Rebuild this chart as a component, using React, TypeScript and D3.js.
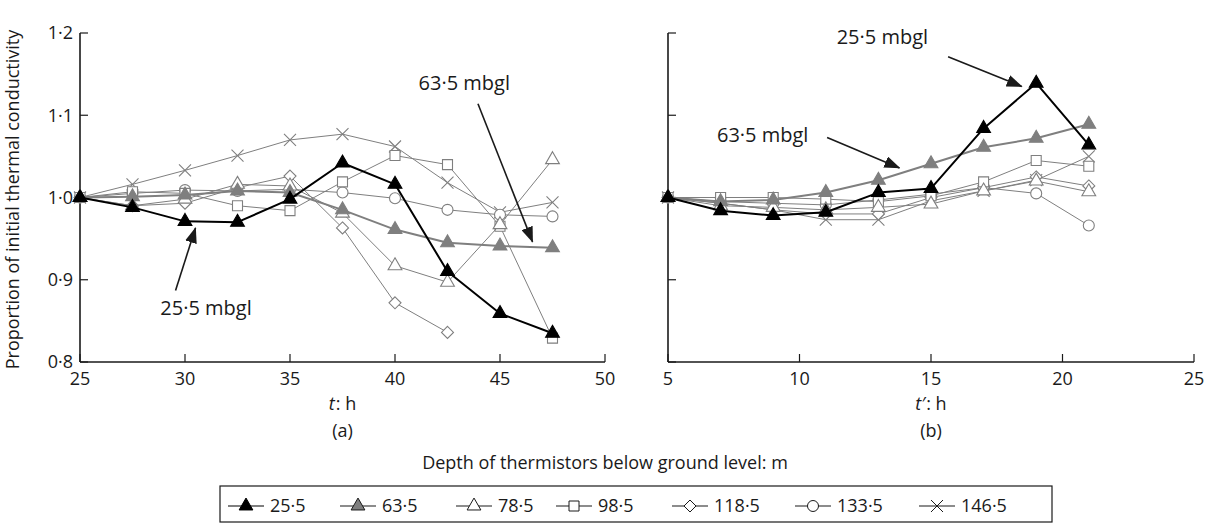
import React from 'react';
import * as d3 from 'd3';

// Sampling times (h) for the heating phase (a) and recovery phase (b)
const tHeating = [25, 27.5, 30, 32.5, 35, 37.5, 40, 42.5, 45, 47.5];
const tRecovery = [5, 7, 9, 11, 13, 15, 17, 19, 21];

// Depth labels of the thermistors (m below ground level)
const depthLabels = ['25·5', '63·5', '78·5', '98·5', '118·5', '133·5', '146·5'];

// Proportion of initial thermal conductivity, heating phase
const heat25_5 = [1.0, 0.988, 0.971, 0.97, 0.998, 1.042, 1.016, 0.91, 0.859, 0.835];
const heat63_5 = [1.0, 1.001, 1.003, 1.008, 1.006, 0.985, 0.961, 0.945, 0.941, 0.939];
const heat78_5 = [1.0, 0.99, 0.998, 1.016, 1.014, 0.981, 0.917, 0.897, 0.967, 1.046];
const heat98_5 = [1.0, 1.007, 1.005, 0.99, 0.984, 1.019, 1.051, 1.04, 0.965, 0.829];
const heat118_5 = [1.0, 0.99, 0.993, 1.012, 1.026, 0.963, 0.872, 0.836];
const heat133_5 = [1.0, 1.005, 1.009, 1.008, 1.01, 1.006, 0.999, 0.985, 0.979, 0.977];
const heat146_5 = [1.0, 1.016, 1.033, 1.051, 1.07, 1.077, 1.062, 1.018, 0.982, 0.994];

// Proportion of initial thermal conductivity, recovery phase
const rec25_5 = [1.0, 0.984, 0.978, 0.982, 1.006, 1.011, 1.084, 1.139, 1.064];
const rec63_5 = [1.0, 0.995, 0.997, 1.006, 1.021, 1.041, 1.061, 1.072, 1.089];
const rec78_5 = [1.0, 0.99, 0.988, 0.985, 0.988, 0.992, 1.008, 1.02, 1.007];
const rec98_5 = [1.0, 1.0, 1.0, 0.998, 0.995, 1.002, 1.019, 1.045, 1.038];
const rec118_5 = [1.0, 0.993, 0.985, 0.98, 0.98, 1.0, 1.012, 1.025, 1.014];
const rec133_5 = [1.0, 0.995, 0.993, 0.991, 0.997, 1.004, 1.012, 1.005, 0.966];
const rec146_5 = [1.0, 0.993, 0.985, 0.973, 0.973, 0.996, 1.008, 1.021, 1.05];

// Axis ticks
const yTicks = [0.8, 0.9, 1.0, 1.1, 1.2];
const xTicksA = [25, 30, 35, 40, 45, 50];
const xTicksB = [5, 10, 15, 20, 25];

const heatingSeries = [heat25_5, heat63_5, heat78_5, heat98_5, heat118_5, heat133_5, heat146_5];
const recoverySeries = [rec25_5, rec63_5, rec78_5, rec98_5, rec118_5, rec133_5, rec146_5];

const GREY = '#7f7f7f';
const INK = '#1a1a1a';
const FONT = '"Open Sans", "Noto Sans", sans-serif';
const FS = 18;

type Shape = 'triangle' | 'square' | 'diamond' | 'circle' | 'cross';
interface SeriesStyle { stroke: string; fill: string; markerStroke: string; shape: Shape; width: number; }

const seriesStyles: SeriesStyle[] = [
  { stroke: '#000', fill: '#000', markerStroke: '#000', shape: 'triangle', width: 2 },
  { stroke: GREY, fill: GREY, markerStroke: GREY, shape: 'triangle', width: 2 },
  { stroke: GREY, fill: '#fff', markerStroke: GREY, shape: 'triangle', width: 1 },
  { stroke: GREY, fill: '#fff', markerStroke: GREY, shape: 'square', width: 1 },
  { stroke: GREY, fill: '#fff', markerStroke: GREY, shape: 'diamond', width: 1 },
  { stroke: GREY, fill: '#fff', markerStroke: GREY, shape: 'circle', width: 1 },
  { stroke: GREY, fill: 'none', markerStroke: GREY, shape: 'cross', width: 1 },
];

const symbolPath = (shape: Shape): string => {
  switch (shape) {
    case 'triangle':
      return d3.symbol().type(d3.symbolTriangle).size(82)() as string;
    case 'square':
      return d3.symbol().type(d3.symbolSquare).size(100)() as string;
    case 'diamond':
      return 'M0,-6L6,0L0,6L-6,0Z';
    case 'circle':
      return d3.symbol().type(d3.symbolCircle).size(95)() as string;
    case 'cross':
      return 'M-6,-6L6,6M-6,6L6,-6';
  }
};

const fmt = (v: number) => d3.format('.1f')(v).replace('.', '·');

const yTop = 33;
const yBottom = 362;
const y = d3.scaleLinear().domain([0.8, 1.2]).range([yBottom, yTop]);
const xA = d3.scaleLinear().domain([25, 50]).range([80, 605]);
const xB = d3.scaleLinear().domain([5, 25]).range([668, 1194]);

interface PanelProps {
  x: d3.ScaleLinear<number, number>;
  times: number[];
  series: number[][];
  xTicks: number[];
  showYLabels: boolean;
  caption: string;
  timeSymbol: string;
}

const Panel: React.FC<PanelProps> = ({ x, times, series, xTicks, showYLabels, caption, timeSymbol }) => {
  const [x0, x1] = x.range();
  const order = [6, 5, 4, 3, 2, 1, 0];
  const xMid = (x0 + x1) / 2;
  return (
    <g>
      {/* axes */}
      <line x1={x0} x2={x0} y1={yTop} y2={yBottom} stroke={INK} strokeWidth={1.6} />
      <line x1={x0} x2={x1} y1={yBottom} y2={yBottom} stroke={INK} strokeWidth={1.6} />
      {yTicks.map((t) => (
        <g key={`y${t}`}>
          <line x1={x0} x2={x0 + 8} y1={y(t)} y2={y(t)} stroke={INK} strokeWidth={1.2} />
          {showYLabels && (
            <text x={x0 - 7} y={y(t)} dy="0.35em" textAnchor="end" fontSize={FS} fill={INK} fontFamily={FONT}>
              {fmt(t)}
            </text>
          )}
        </g>
      ))}
      {xTicks.map((t) => (
        <g key={`x${t}`}>
          <line x1={x(t)} x2={x(t)} y1={yBottom} y2={yBottom - 8} stroke={INK} strokeWidth={1.2} />
          <text x={x(t)} y={yBottom + 17} dy="0.35em" textAnchor="middle" fontSize={FS} fill={INK} fontFamily={FONT}>
            {t}
          </text>
        </g>
      ))}
      <text x={xMid} y={yBottom + 48} textAnchor="middle" fontSize={FS} fill={INK} fontFamily={FONT}>
        <tspan fontStyle="italic">{timeSymbol}</tspan>
        <tspan dx={1}>: h</tspan>
      </text>
      <text x={xMid} y={yBottom + 75} textAnchor="middle" fontSize={FS} fill={INK} fontFamily={FONT}>
        {caption}
      </text>

      {/* series */}
      {order.map((i) => {
        const vals = series[i];
        const st = seriesStyles[i];
        const pts = vals.map((v, j) => [x(times[j]), y(v)] as [number, number]);
        const path = d3.line()(pts) as string;
        return (
          <g key={`s${i}`}>
            <path d={path} fill="none" stroke={st.stroke} strokeWidth={st.width} strokeLinejoin="round" />
            {pts.map(([px, py], j) => (
              <path
                key={j}
                d={symbolPath(st.shape)}
                transform={`translate(${px},${py})`}
                fill={st.fill}
                stroke={st.markerStroke}
                strokeWidth={1.1}
              />
            ))}
          </g>
        );
      })}
    </g>
  );
};

interface Note { label: string; tx: number; ty: number; from: [number, number]; to: [number, number]; }

// Callouts, placed in data units of their own panel
const notesA: Note[] = [
  { label: '25·5 mbgl', tx: 31.0, ty: 0.857, from: [29.55, 0.887], to: [30.5, 0.963] },
  { label: '63·5 mbgl', tx: 43.3, ty: 1.131, from: [43.95, 1.114], to: [46.55, 0.946] },
];
const notesB: Note[] = [
  { label: '25·5 mbgl', tx: 13.15, ty: 1.187, from: [15.65, 1.171], to: [18.45, 1.135] },
  { label: '63·5 mbgl', tx: 8.6, ty: 1.068, from: [11.05, 1.073], to: [13.8, 1.036] },
];

const Callouts: React.FC<{ x: d3.ScaleLinear<number, number>; notes: Note[] }> = ({ x, notes }) => (
  <g>
    {notes.map((n, i) => (
      <g key={i}>
        <text x={x(n.tx)} y={y(n.ty)} textAnchor="middle" fontSize={20} fill={INK} fontFamily={FONT}>
          {n.label}
        </text>
        <line
          x1={x(n.from[0])}
          y1={y(n.from[1])}
          x2={x(n.to[0])}
          y2={y(n.to[1])}
          stroke={INK}
          strokeWidth={1.6}
          markerEnd="url(#arrowhead)"
        />
      </g>
    ))}
  </g>
);

export default function App() {
  const legendLeft = 220;
  const legendRight = 1052;
  const legendY = 506;
  const legendItemX = [228, 340, 456, 556, 672, 795, 919];
  return (
    <svg
      width={1211}
      height={523}
      viewBox="0 0 1211 523"
      style={{ position: 'absolute', left: 0, top: 0, background: '#fff' }}
      fontFamily={FONT}
    >
      <defs>
        <marker
          id="arrowhead"
          viewBox="0 0 16 12"
          refX={15}
          refY={6}
          markerWidth={16}
          markerHeight={12}
          markerUnits="userSpaceOnUse"
          orient="auto"
        >
          <path d="M0,0L16,6L0,12Z" fill={INK} />
        </marker>
      </defs>
      <rect x={0} y={0} width={1211} height={523} fill="#fff" />

      <text
        transform={`translate(19,${(yTop + yBottom) / 2 + 2}) rotate(-90)`}
        textAnchor="middle"
        fontSize={FS}
        fill={INK}
        fontFamily={FONT}
      >
        Proportion of initial thermal conductivity
      </text>

      <Panel x={xA} times={tHeating} series={heatingSeries} xTicks={xTicksA} showYLabels caption="(a)" timeSymbol="t" />
      <Panel x={xB} times={tRecovery} series={recoverySeries} xTicks={xTicksB} showYLabels={false} caption="(b)" timeSymbol="t′" />
      <Callouts x={xA} notes={notesA} />
      <Callouts x={xB} notes={notesB} />

      <text x={605} y={469} textAnchor="middle" fontSize={FS} fill={INK} fontFamily={FONT}>
        Depth of thermistors below ground level: m
      </text>
      <rect x={legendLeft} y={486} width={legendRight - legendLeft} height={36} fill="none" stroke={INK} strokeWidth={1.2} />
      {depthLabels.map((lab, i) => {
        const st = seriesStyles[i];
        const lx = legendItemX[i];
        return (
          <g key={lab}>
            <line x1={lx} x2={lx + 36} y1={legendY} y2={legendY} stroke={i === 0 ? '#000' : INK} strokeWidth={1.2} />
            <path
              d={symbolPath(st.shape)}
              transform={`translate(${lx + 18},${legendY})`}
              fill={i === 0 ? '#000' : i === 1 ? GREY : st.shape === 'cross' ? 'none' : '#fff'}
              stroke={i === 0 ? '#000' : INK}
              strokeWidth={1}
            />
            <text x={lx + 42} y={legendY} dy="0.35em" fontSize={FS} fill={INK} fontFamily={FONT}>
              {lab}
            </text>
          </g>
        );
      })}
    </svg>
  );
}
